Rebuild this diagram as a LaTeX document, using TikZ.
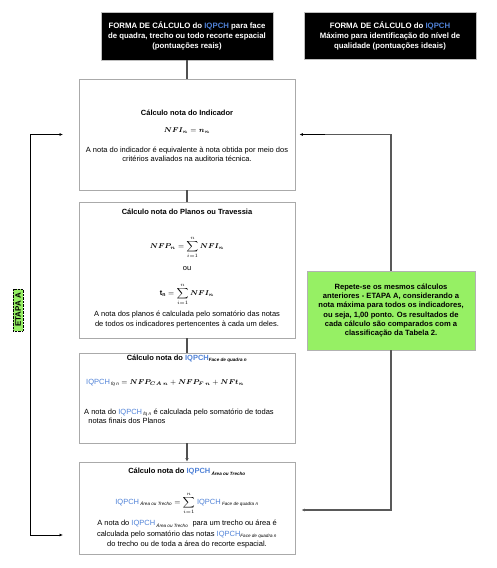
\documentclass[tikz,border=0pt]{standalone}
\usepackage{amsmath}
\usepackage{bm}
\usepackage{fontspec}
\setmainfont{Liberation Sans}
\usetikzlibrary{arrows.meta}
\definecolor{iq}{RGB}{80,130,215}
\definecolor{lgreen}{RGB}{150,240,100}
\definecolor{bordergray}{RGB}{170,170,170}
\definecolor{conngray}{RGB}{80,80,80}
\newcommand{\IQ}{\textcolor{iq}{IQPCH}}
\newcommand{\sbt}[1]{_{\text{\itshape\fontsize{4.6}{5}\selectfont #1}}}
\begin{document}
\begin{tikzpicture}[x=1pt,y=-1pt,
  txt/.style={font=\fontsize{7.5}{9.3}\selectfont, inner sep=0pt, align=center},
  ttl/.style={font=\fontsize{7.5}{9}\selectfont\bfseries, inner sep=0pt, align=center},
  fml/.style={font=\fontsize{7.4}{9}\selectfont, inner sep=0pt},
  headbox/.style={fill=black, draw=gray!50, line width=0.6pt, text=white, font=\fontsize{7.8}{10}\selectfont\bfseries, align=center, inner sep=0pt},
  calcbox/.style={draw=bordergray, line width=0.8pt, minimum width=216pt, inner sep=0pt},
  conn/.style={draw=conngray, line width=1.4pt},
  arr/.style={draw=black, line width=0.9pt, -{Latex[length=3.5pt,width=3pt]}},
]
\useasboundingbox (0,0) rectangle (496,568);

% header boxes
\node[headbox, minimum width=172pt, minimum height=48pt] (h1) at (187,36)
  {FORMA DE CÁLCULO do \IQ{} para face\\de quadra, trecho ou todo recorte espacial\\(pontuações reais)};
\node[headbox, minimum width=172pt, minimum height=47pt] (h2) at (390,35.5)
  {FORMA DE CÁLCULO do \IQ\\Máximo para identificação do nível de\\qualidade (pontuações ideais)};

% calculation boxes
\node[calcbox, minimum height=111pt] (b1) at (187,134.5) {};
\node[calcbox, minimum height=136pt] (b2) at (187,270) {};
\node[calcbox, minimum height=90pt] (b3) at (187,398) {};
\node[calcbox, minimum height=92pt] (b4) at (187,508) {};

% box 1
\node[ttl] (t1) at (187,113) {Cálculo nota do Indicador};
\node[fml] (f1) at (187,131) {$\bm{NFI_n} = \bm{n_n}$};
\node[txt] (x1) at (187,154.5) {A nota do indicador é equivalente à nota obtida por meio dos\\critérios avaliados na auditoria técnica.};

% box 2
\node[ttl] (t2) at (187,212) {Cálculo nota do Planos ou Travessia};
\node[fml] (f2a) at (187,247.5) {$\displaystyle \bm{NFP_n} = \sum_{i=1}^{n} \bm{NFI_n}$};
\node[txt] (ou) at (187,269) {ou};
\node[fml] (f2b) at (187,294) {$\displaystyle \mathbf{t_n} = \sum_{i=1}^{n} \bm{NFI_n}$};
\node[txt] (x2) at (187,319.5) {A nota dos planos é calculada pelo somatório das notas\\de todos os indicadores pertencentes à cada um deles.};

% box 3
\node[ttl] (t3) at (187,359) {Cálculo nota do \IQ$\sbt{Face de quadra n}$};
\node[fml, anchor=west] (f3) at (86,383) {\fontsize{7.5}{9}\selectfont\IQ\,$\sbt{fq n}$ $=$ $\bm{NFP_{CA\,n}} + \bm{NFP_{F\,n}} + \bm{NFt_n}$};
\node[txt, anchor=west, align=left] (x3) at (84,416.5) {A nota do \IQ\,$\sbt{fq n}$ é calculada pelo somatório de todas\\\ \ notas finais dos Planos};

% box 4
\node[ttl] (t4) at (187,472) {Cálculo nota do \IQ\,$\sbt{Área ou Trecho}$};
\node[fml] (f4) at (187,503) {\fontsize{7.5}{9}\selectfont\IQ\,$\sbt{Área ou Trecho}$ $\displaystyle = \sum_{i=1}^{n}$ \IQ\,$\sbt{Face de quadra n}$};
\node[txt, font=\fontsize{7.5}{10.5}\selectfont] (x4) at (187,534.5) {A nota do \IQ\,$\sbt{Área ou Trecho}$\ \ para um trecho ou área é\\calculada pelo somatório das notas \IQ$\sbt{Face de quadra n}$\\do trecho ou de toda a área do recorte espacial.};

% green box
\node[fill=lgreen, draw=gray!60, line width=0.5pt, minimum width=168pt, minimum height=79pt, inner sep=0pt,
  font=\fontsize{7.6}{9.3}\selectfont\bfseries, align=center] (g) at (391,310.5)
  {Repete-se os mesmos cálculos\\anteriores - ETAPA A, considerando a\\nota máxima para todos os indicadores,\\ou seja, 1,00 ponto. Os resultados de\\cada cálculo são comparados com a\\classificação da Tabela 2.};

% ETAPA A label
\node[fill=lgreen, draw=black, densely dotted, line width=0.4pt, rotate=90, inner xsep=4pt, inner ysep=2pt,
  font=\fontsize{8}{9}\selectfont\bfseries] (et) at (18,310) {ETAPA A};

% vertical connectors between boxes
\draw[conn] (h1.south) -- (b1.north);
\draw[conn] (b1.south) -- (b2.north);
\draw[conn] (b2.south) -- (b3.north);
\draw[conn, -{Latex[length=3.5pt,width=3.5pt]}] (b3.south) -- (b4.north);

% right feedback connectors
\draw[conn, line width=1.2pt, draw=gray!70!black] (g.north) |- ([xshift=30pt]b1.east);
\draw[arr] ([xshift=30pt]b1.east) -- ([xshift=4pt]b1.east);
\draw[conn, line width=1.2pt, draw=gray!70!black] (g.south) |- ([xshift=30pt,yshift=-2pt]b4.east);
\draw[conn, line width=1.2pt, draw=gray!70!black, -{Latex[length=3.5pt,width=3pt]}] ([xshift=30pt,yshift=-2pt]b4.east) -- ([xshift=6pt,yshift=-2pt]b4.east);

% left ETAPA A loop
\coordinate (lt1) at (63,134.5);
\coordinate (lt2) at (63,535);
\draw[line width=0.9pt, {Latex[length=3.5pt,width=3pt]}-{Latex[length=3.5pt,width=3pt]}] (lt1) -- (30,134.5) -- (30,535) -- (lt2);
\end{tikzpicture}
\end{document}
